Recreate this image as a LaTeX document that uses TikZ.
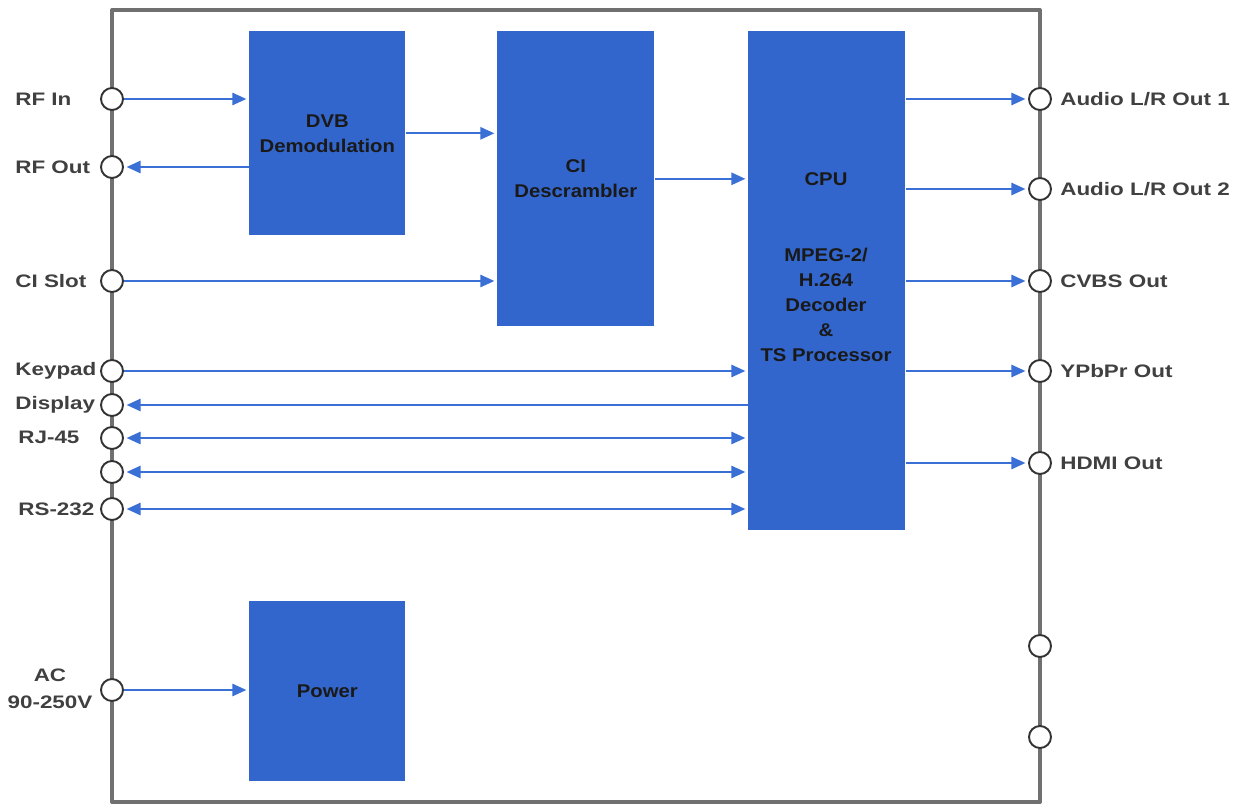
\documentclass[tikz,border=0pt]{standalone}
\usepackage{fontspec}
\setmainfont{Liberation Sans}
\newfontfamily\lblfont{Liberation Sans}[FakeStretch=1.24]
\newfontfamily\boxfont{Liberation Sans}[FakeStretch=1.1]
\usetikzlibrary{arrows.meta,positioning}
\definecolor{blockblue}{HTML}{3366CC}
\definecolor{wireblue}{HTML}{3A6FD6}
\definecolor{framegray}{HTML}{707070}
\definecolor{labelgray}{HTML}{404040}
\tikzset{
  every picture/.style={line join=round, >={Triangle[length=8pt,width=7pt]}},
  block/.style={fill=blockblue, draw=none, inner sep=0pt, anchor=north west},
  boxtext/.style={font=\boxfont\bfseries\fontsize{10.5}{14.2}\selectfont, text=black!90, align=center, inner sep=0pt},
  port/.style={circle, draw=black!80, fill=white, line width=1.1pt, minimum size=0.44cm, inner sep=0pt},
  wire/.style={draw=wireblue, line width=1.1pt, shorten >=1.5pt},
  lbl/.style={font=\lblfont\bfseries\fontsize{10.3}{15.5}\selectfont, text=labelgray, inner sep=0pt},
}

\begin{document}
\begin{tikzpicture}[x=0.02cm,y=-0.02cm]
\useasboundingbox (0,0) rectangle (1242,804);
% housing
\draw[framegray, line width=2.3pt] (112,10) rectangle (1040,802);
% blocks
\node[block, minimum width=3.12cm, minimum height=4.08cm] (dvb) at (249,31) {};
\node[block, minimum width=3.14cm, minimum height=5.9cm] (ci) at (497,31) {};
\node[block, minimum width=3.14cm, minimum height=9.98cm] (cpu) at (748,31) {};
\node[block, minimum width=3.12cm, minimum height=3.6cm] (power) at (249,601) {};
\node[boxtext] at (dvb.center) {DVB\\Demodulation};
\node[boxtext] at (ci.center) {CI\\Descrambler};
\node[boxtext] (cputxt) at (826,179) {CPU};
\node[boxtext] (dectxt) at (826,305) {MPEG-2/\\H.264\\Decoder\\\&\\TS Processor};
\node[boxtext] at (power.center) {Power};
% ports left
\node[port] (rfin) at (112,99) {};
\node[port] (rfout) at (112,167) {};
\node[port] (cislot) at (112,281) {};
\node[port] (keypad) at (112,371) {};
\node[port] (display) at (112,405) {};
\node[port] (rj) at (112,438) {};
\node[port] (spare) at (112,472) {};
\node[port] (rs) at (112,509) {};
\node[port] (acin) at (112,690) {};
% ports right
\node[port] (aout1) at (1040,99) {};
\node[port] (aout2) at (1040,189) {};
\node[port] (cvbs) at (1040,281) {};
\node[port] (ypbpr) at (1040,371) {};
\node[port] (hdmi) at (1040,463) {};
\node[port] (extra1) at (1040,646) {};
\node[port] (extra2) at (1040,737) {};
% labels
\node[lbl, anchor=west] (lrfin) at (15,99) {RF In};
\node[lbl, anchor=west] (lrfout) at (15,167) {RF Out};
\node[lbl, anchor=west] (lcislot) at (15,281) {CI Slot};
\node[lbl, anchor=west] (lkeypad) at (15,371) {Keypad};
\node[lbl, anchor=west] (ldisplay) at (15,405) {Display};
\node[lbl, anchor=west] (lrj) at (18,437) {RJ-45};
\node[lbl, anchor=west] (lrs) at (18,509) {RS-232};
\node[lbl, align=center] (lac) at (50,689) {AC\\90-250V};
\node[lbl, right=0.16cm of aout1] (laout1) {Audio L/R Out 1};
\node[lbl, right=0.16cm of aout2] (laout2) {Audio L/R Out 2};
\node[lbl, right=0.16cm of cvbs] (lcvbs) {CVBS Out};
\node[lbl, right=0.16cm of ypbpr] (lypbpr) {YPbPr Out};
\node[lbl, right=0.16cm of hdmi] (lhdmi) {HDMI Out};
% signals
\draw[wire,->] (rfin) -- (rfin -| dvb.west);
\draw[wire,->] (rfout -| dvb.west) -- (rfout);
\draw[wire,->] (dvb.east) -- (dvb.east -| ci.west);
\draw[wire,->] (cislot) -- (cislot -| ci.west);
\draw[wire,->] (ci.east) -- (ci.east -| cpu.west);
\draw[wire,->] (keypad) -- (keypad -| cpu.west);
\draw[wire,->] (display -| cpu.west) -- (display);
\draw[wire,<->, shorten <=1.5pt] (rj) -- (rj -| cpu.west);
\draw[wire,<->, shorten <=1.5pt] (spare) -- (spare -| cpu.west);
\draw[wire,<->, shorten <=1.5pt] (rs) -- (rs -| cpu.west);
\draw[wire,->] (acin) -- (acin -| power.west);
\draw[wire,->] (aout1 -| cpu.east) -- (aout1);
\draw[wire,->] (aout2 -| cpu.east) -- (aout2);
\draw[wire,->] (cvbs -| cpu.east) -- (cvbs);
\draw[wire,->] (ypbpr -| cpu.east) -- (ypbpr);
\draw[wire,->] (hdmi -| cpu.east) -- (hdmi);
\end{tikzpicture}
\end{document}
